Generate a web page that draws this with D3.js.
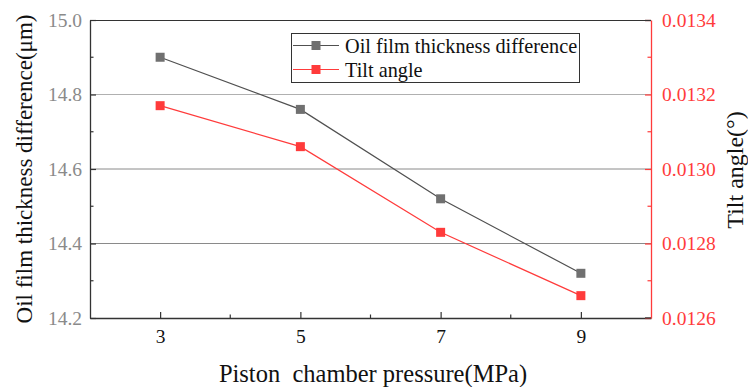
<!DOCTYPE html>
<html><head><meta charset="utf-8">
<script src="https://cdn.jsdelivr.net/npm/d3@7"></script>
</head><body style="margin:0;background:#fff"><svg id="c" width="748" height="387" font-family="Liberation Serif"></svg>
<script>
const pressure = [3, 5, 7, 9];
const thicknessDiff = [14.90, 14.76, 14.52, 14.32];
const tiltAngle = [0.01317, 0.01306, 0.01283, 0.01266];
const xTicks = [3, 5, 7, 9];
const leftTicks = [14.2, 14.4, 14.6, 14.8, 15.0];
const rightTicks = [0.0126, 0.0128, 0.0130, 0.0132, 0.0134];
const seriesNames = ["Oil film thickness difference", "Tilt angle"];

const fontStyle = s => `font-family: 'Liberation Serif', serif; font-size: ${s}px`;
const svg = d3.select("#c");
const L = 90, R = 651, T = 20, B = 318;
const x = d3.scaleLinear().domain([2, 10]).range([L, R]);
const yL = d3.scaleLinear().domain([14.2, 15.0]).range([B, T]);
const yR = d3.scaleLinear().domain([0.0126, 0.0134]).range([B, T]);
const gray = "#707070", grayLine = "#505050", red = "#ff3b3b";

// gridlines
svg.append("g").selectAll("line").data([14.4, 14.6, 14.8]).join("line")
  .attr("x1", L).attr("x2", R).attr("y1", d => yL(d)).attr("y2", d => yL(d))
  .attr("stroke", (d) => d === 14.8 ? "#b0b0b0" : "#8a8a8a").attr("stroke-width", 1);

// frame top
svg.append("line").attr("x1", L).attr("x2", R).attr("y1", T + 0.5).attr("y2", T + 0.5).attr("stroke", "#333").attr("stroke-width", 1.2);

// bottom axis
const xAxis = d3.axisBottom(x).tickValues(xTicks).tickSize(-6).tickSizeOuter(0).tickFormat(d3.format("d")).tickPadding(11);
const gx = svg.append("g").attr("transform", `translate(0,${B})`).call(xAxis).attr("font-family", "Liberation Serif");
gx.select(".domain").attr("stroke", "#333").attr("stroke-width", 1.3);
gx.selectAll(".tick line").attr("stroke", "#333").attr("stroke-width", 1.2);
gx.selectAll("text").attr("style", fontStyle(19.5)).attr("fill", "#111");
svg.append("g").selectAll("line").data([4, 6, 8]).join("line")
  .attr("x1", d => x(d)).attr("x2", d => x(d)).attr("y1", B).attr("y2", B - 3.5)
  .attr("stroke", "#333").attr("stroke-width", 1.2);

// left axis
const yAxisL = d3.axisLeft(yL).tickValues(leftTicks).tickSize(-6).tickSizeOuter(0).tickFormat(d3.format(".1f")).tickPadding(8);
const gl = svg.append("g").attr("transform", `translate(${L},0)`).call(yAxisL).attr("font-family", "Liberation Serif");
gl.select(".domain").attr("stroke", "#333").attr("stroke-width", 1.3);
gl.selectAll(".tick line").attr("stroke", "#333").attr("stroke-width", 1.2);
gl.selectAll("text").attr("style", fontStyle(19.5)).attr("fill", "#8a8a8a");
svg.append("g").selectAll("line").data([14.3, 14.5, 14.7, 14.9]).join("line")
  .attr("x1", L).attr("x2", L + 3.5).attr("y1", d => yL(d)).attr("y2", d => yL(d))
  .attr("stroke", "#333").attr("stroke-width", 1.2);

// right axis
const yAxisR = d3.axisRight(yR).tickValues(rightTicks).tickSize(-6).tickSizeOuter(0).tickFormat(d3.format(".4f")).tickPadding(11);
const gr = svg.append("g").attr("transform", `translate(${R},0)`).call(yAxisR).attr("font-family", "Liberation Serif");
gr.select(".domain").attr("stroke", red).attr("stroke-width", 1.3);
gr.selectAll(".tick line").attr("stroke", red).attr("stroke-width", 1.2);
gr.selectAll("text").attr("style", fontStyle(19.5)).attr("fill", red);
svg.append("g").selectAll("line").data([0.0127, 0.0129, 0.0131, 0.0133]).join("line")
  .attr("x1", R).attr("x2", R - 3.5).attr("y1", d => yR(d)).attr("y2", d => yR(d))
  .attr("stroke", red).attr("stroke-width", 1.2);
// black corner caps
svg.append("line").attr("x1", R - 6).attr("x2", R).attr("y1", T + 0.5).attr("y2", T + 0.5).attr("stroke", "#333").attr("stroke-width", 1.3);
svg.append("line").attr("x1", R - 6).attr("x2", R).attr("y1", B).attr("y2", B).attr("stroke", "#333").attr("stroke-width", 1.3);

// series
const lineL = d3.line().x((d, i) => x(pressure[i])).y(d => yL(d));
const lineR = d3.line().x((d, i) => x(pressure[i])).y(d => yR(d));
svg.append("path").datum(thicknessDiff).attr("d", lineL).attr("fill", "none").attr("stroke", grayLine).attr("stroke-width", 1.2);
svg.append("path").datum(tiltAngle).attr("d", lineR).attr("fill", "none").attr("stroke", red).attr("stroke-width", 1.2);
const ms = 9;
svg.append("g").selectAll("rect").data(thicknessDiff).join("rect")
  .attr("x", (d, i) => x(pressure[i]) - ms / 2).attr("y", d => yL(d) - ms / 2)
  .attr("width", ms).attr("height", ms).attr("fill", gray);
svg.append("g").selectAll("rect").data(tiltAngle).join("rect")
  .attr("x", (d, i) => x(pressure[i]) - ms / 2).attr("y", d => yR(d) - ms / 2)
  .attr("width", ms).attr("height", ms).attr("fill", red);

// legend
const lg = svg.append("g");
lg.append("rect").attr("x", 291.5).attr("y", 33.5).attr("width", 288).attr("height", 49)
  .attr("fill", "#fff").attr("stroke", "#333").attr("stroke-width", 1);
const legColors = [[grayLine, gray], [red, red]];
seriesNames.forEach((name, i) => {
  const yy = 45.5 + i * 24;
  lg.append("line").attr("x1", 293).attr("x2", 339).attr("y1", yy).attr("y2", yy).attr("stroke", legColors[i][0]).attr("stroke-width", 1.2);
  lg.append("rect").attr("x", 316 - ms / 2).attr("y", yy - ms / 2).attr("width", ms).attr("height", ms).attr("fill", legColors[i][1]);
  lg.append("text").attr("x", 345).attr("y", yy + 7).attr("style", fontStyle(20.3)).attr("fill", "#111").text(name);
});

// axis titles
svg.append("text").attr("x", 373).attr("y", 382).attr("text-anchor", "middle").attr("style", fontStyle(24.5) + "; white-space: pre").attr("fill", "#111")
  .text("Piston  chamber pressure(MPa)");
svg.append("text").attr("transform", "translate(32,169) rotate(-90)").attr("text-anchor", "middle").attr("style", fontStyle(23)).attr("fill", "#111")
  .text("Oil film thickness difference(μm)");
svg.append("text").attr("transform", "translate(743,170) rotate(-90)").attr("text-anchor", "middle").attr("style", fontStyle(24)).attr("fill", "#111")
  .text("Tilt angle(°)");
</script></body></html>
